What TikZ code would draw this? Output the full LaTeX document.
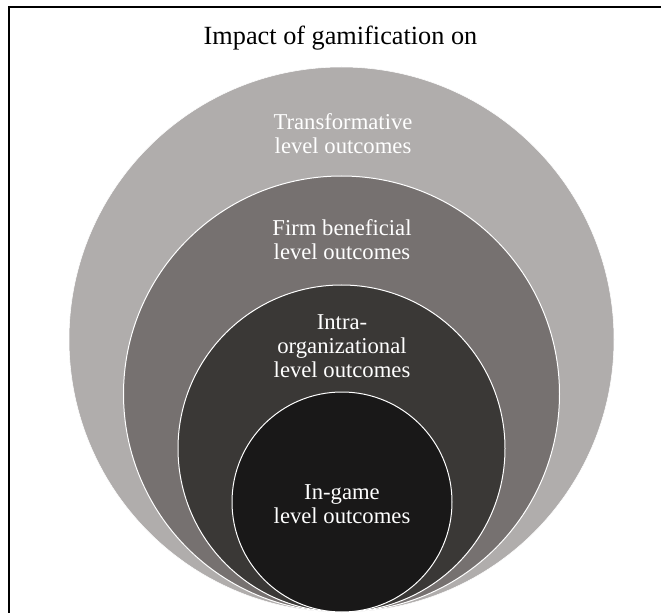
\documentclass[tikz,border=0pt]{standalone}
\usepackage{fontspec}
\setmainfont{Liberation Serif}
\usepackage{tikz}
\usetikzlibrary{positioning}

\begin{document}
\begin{tikzpicture}[x=0.75pt,y=0.75pt,yscale=-1,xscale=1,
  lbl/.style={text={rgb, 255:red, 255; green, 255; blue, 255 },align=center,font=\fontsize{17}{18}\selectfont}]
\useasboundingbox (0,0) rectangle (661,613);

%Frame
\draw [line width=1.9]  (9,7) rectangle (720,700) ;

%Shape: Circle [outer]
\draw  [color={rgb, 255:red, 255; green, 255; blue, 255 }  ,draw opacity=1 ][fill={rgb, 255:red, 176; green, 173; blue, 172 }  ,fill opacity=1 ] (341.5,339.5) circle [x radius= 272.5, y radius= 272.5]  ;
%Shape: Circle [firm]
\draw  [color={rgb, 255:red, 255; green, 255; blue, 255 }  ,draw opacity=1 ][fill={rgb, 255:red, 118; green, 113; blue, 112 }  ,fill opacity=1 ][line width=0.75] (341.5,394) circle [x radius= 218, y radius= 218]  ;
%Shape: Circle [intra]
\draw  [color={rgb, 255:red, 255; green, 255; blue, 255 }  ,draw opacity=1 ][fill={rgb, 255:red, 58; green, 56; blue, 54 }  ,fill opacity=1 ][line width=0.75] (341.5,448.5) circle [x radius= 163.5, y radius= 163.5]  ;
%Shape: Circle [ingame]
\draw  [color={rgb, 255:red, 255; green, 255; blue, 255 }  ,draw opacity=1 ][fill={rgb, 255:red, 25; green, 24; blue, 24 }  ,fill opacity=1 ][line width=0.75] (342,502) circle [x radius= 110, y radius= 110]  ;

% Text Node
\draw (340.5,38) node [font=\fontsize{19.7}{22}\selectfont] (title) {Impact of gamification on};
% Text Node
\draw (343,134) node [lbl] (trans) {Transformative\\level outcomes};
% Text Node
\draw (342,240) node [lbl] (firm) {Firm beneficial\\level outcomes};
% Text Node
\draw (342,346) node [lbl] (intra) {Intra-\\organizational\\level outcomes};
% Text Node
\draw (342,504) node [lbl] (ingame) {In-game\\level outcomes};

\end{tikzpicture}
\end{document}
